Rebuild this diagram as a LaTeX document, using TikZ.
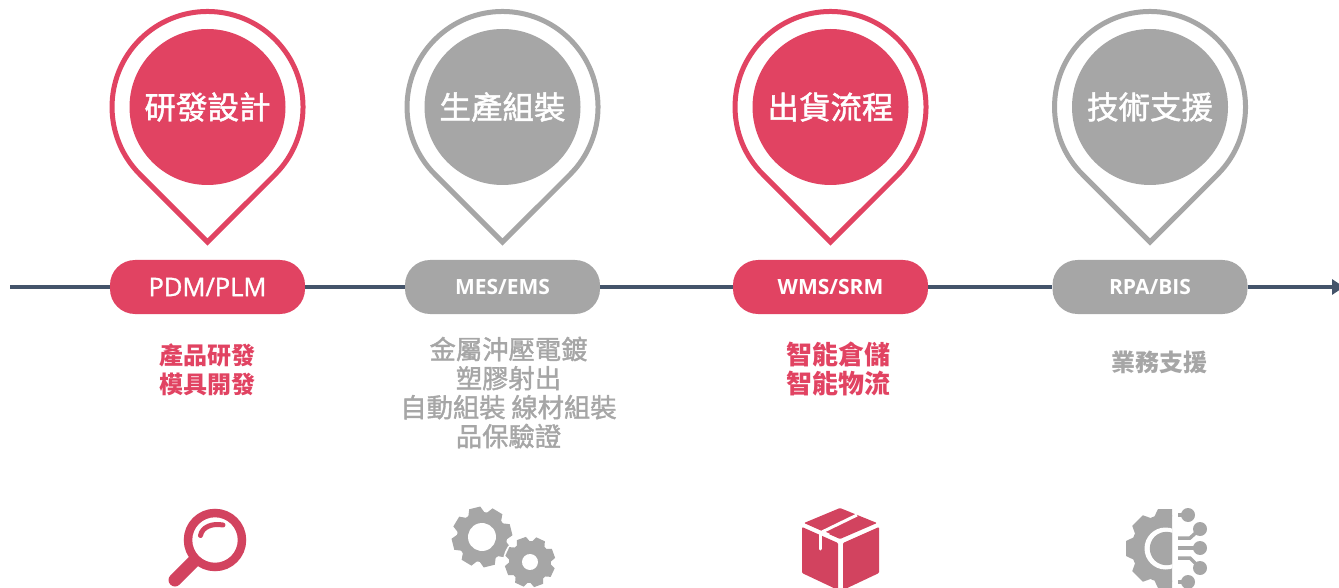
\documentclass[tikz,border=0pt]{standalone}
\usepackage{fontspec}
\usepackage{xcolor}
\usetikzlibrary{arrows.meta}
\setmainfont{Open Sans}
\newfontfamily\cjk{Noto Sans CJK TC}
\newfontfamily\cjkmid[FakeBold=1.5]{Noto Sans CJK TC}
\newfontfamily\pilltext[FakeBold=1.2]{Open Sans}
\definecolor{pinred}{HTML}{E14362}
\definecolor{iconred}{HTML}{D2435F}
\definecolor{pingray}{HTML}{A6A6A6}
\definecolor{axisblue}{HTML}{44546A}
\tikzstyle{axis}=[line width=4.5pt,color=axisblue]
\tikzstyle{axishead}=[axis,-{Triangle[length=12pt,width=15pt]}]
\tikzstyle{pill}=[rounded corners=25pt,minimum width=195pt,minimum height=54pt,inner sep=0pt,text=white]
\tikzstyle{disc}=[circle,minimum size=156pt,inner sep=0pt,text=white,font=\cjkmid\fontsize{31.5}{34}\selectfont]
\tikzstyle{rim}=[line width=5pt,miter limit=10,fill=white]
\tikzstyle{blurb}=[align=center,inner sep=0pt,font=\cjkmid\fontsize{26.3}{29}\selectfont]
\tikzstyle{blurbsmall}=[align=center,inner sep=0pt,font=\cjk\bfseries\fontsize{24}{29}\selectfont]
\newcommand\pin[4]{%
	\draw[rim,draw=#2] (#1,242) -- ++(-67.5,-67.5) arc[start angle=135,end angle=405,radius=95.5] -- cycle;
	\node[disc,fill=#2] (#3) at (#1,107) {#4};
}
\newcommand\gearIcon[6]{%
	\begin{scope}[shift={(#1,#2)},rotate=#6]
		\fill circle (#4);
		\foreach \a in {0,45,...,315}
			\fill[rotate=\a] (#4-2,-.28*#3) -- (#3,-.19*#3) -- (#3,.19*#3) -- (#4-2,.28*#3) -- cycle;
		\fill[white] circle (#5);
	\end{scope}
}
\begin{document}
\begin{tikzpicture}[x=1pt,y=-1pt]
	\useasboundingbox (0,0) rectangle (1339,588);
	\coordinate (start) at (10,287);
	\coordinate (end) at (1344,287);
	\node[pill,fill=pinred,font=\pilltext\fontsize{25.5}{28}\selectfont] (pdm) at (207.5,287) {PDM/PLM};
	\node[pill,fill=pingray,font=\fontsize{21}{24}\selectfont\bfseries] (mes) at (502.5,287) {MES/EMS};
	\node[pill,fill=pinred,font=\fontsize{21}{24}\selectfont\bfseries] (wms) at (830.5,287) {WMS/SRM};
	\node[pill,fill=pingray,font=\fontsize{21}{24}\selectfont\bfseries] (rpa) at (1150,287) {RPA/BIS};
	\draw[axis] (start) -- (pdm);
	\draw[axis] (pdm) -- (mes);
	\draw[axis] (mes) -- (wms);
	\draw[axis] (wms) -- (rpa);
	\draw[axishead] (rpa) -- (end);

	\pin{207.5}{pinred}{rnd}{研發設計}
	\pin{502.5}{pingray}{prod}{生產組裝}
	\pin{830.5}{pinred}{ship}{出貨流程}
	\pin{1150}{pingray}{tech}{技術支援}

	\node[blurbsmall,text=pinred] (rndtext) at (207.5,369.5) {產品研發\\模具開發};
	\node[blurb,text=pingray] (prodtext) at (508.5,392.5) {金屬沖壓電鍍\\塑膠射出\\自動組裝 線材組裝\\品保驗證};
	\node[blurb,text=pinred,font=\cjk\bfseries\fontsize{26}{29}\selectfont] (shiptext) at (838.5,369.5) {智能倉儲\\智能物流};
	\node[blurbsmall,text=pingray] (techtext) at (1159.5,362) {業務支援};

	% magnifier
	\draw[iconred,line width=8.5pt] (215,540) circle (27);
	\draw[iconred,line width=13pt,line cap=round] (194,561) -- (175,580);
	\draw[iconred,line width=5pt,line cap=round] (200.5,535.5) .. controls (202,527) and (212,523) .. (223,525);

	% gears
	\begin{scope}[pingray]
		\gearIcon{482}{537}{30}{25}{14}{14}
		\fill[white] (530,562) circle (27);
		\gearIcon{530}{562}{25}{21}{8}{20}
	\end{scope}

	% box
	\fill[iconred,rounded corners=1pt] (802,527) -- (838,543) -- (838,590) -- (802,573) -- cycle;
	\fill[iconred,rounded corners=1pt] (843,543) -- (879,527) -- (879,573) -- (843,590) -- cycle;
	\fill[iconred,rounded corners=1pt] (840,508) -- (877,523) -- (840,539) -- (804,523) -- cycle;
	\draw[white,line width=3pt] (822,532) -- (857,515);
	\draw[white,line width=3pt] (822,532) -- (829,535);
	\draw[white,line width=3pt,line cap=round] (820.5,534) -- (820.5,549);

	% tech gear
	\begin{scope}[pingray]
		\begin{scope}
			\clip (1120,500) rectangle (1172,600);
			\gearIcon{1165.5}{548.5}{39.5}{34}{21}{0}
			\fill (1166.5,548.5) circle (16.7);
		\end{scope}
		\fill (1188,515) circle (7);
		\fill (1200,529) circle (7);
		\fill (1200,548) circle (7);
		\fill (1200,568) circle (7);
		\fill (1188,582) circle (7);
		\draw[line width=3.5pt] (1178,515) -- (1188,515);
		\draw[line width=3.5pt] (1178,538) -- (1190,538) -- (1200,529);
		\draw[line width=3.5pt] (1178,548) -- (1200,548);
		\draw[line width=3.5pt] (1178,558) -- (1190,558) -- (1200,568);
		\draw[line width=3.5pt] (1178,582) -- (1188,582);
	\end{scope}
\end{tikzpicture}
\end{document}
